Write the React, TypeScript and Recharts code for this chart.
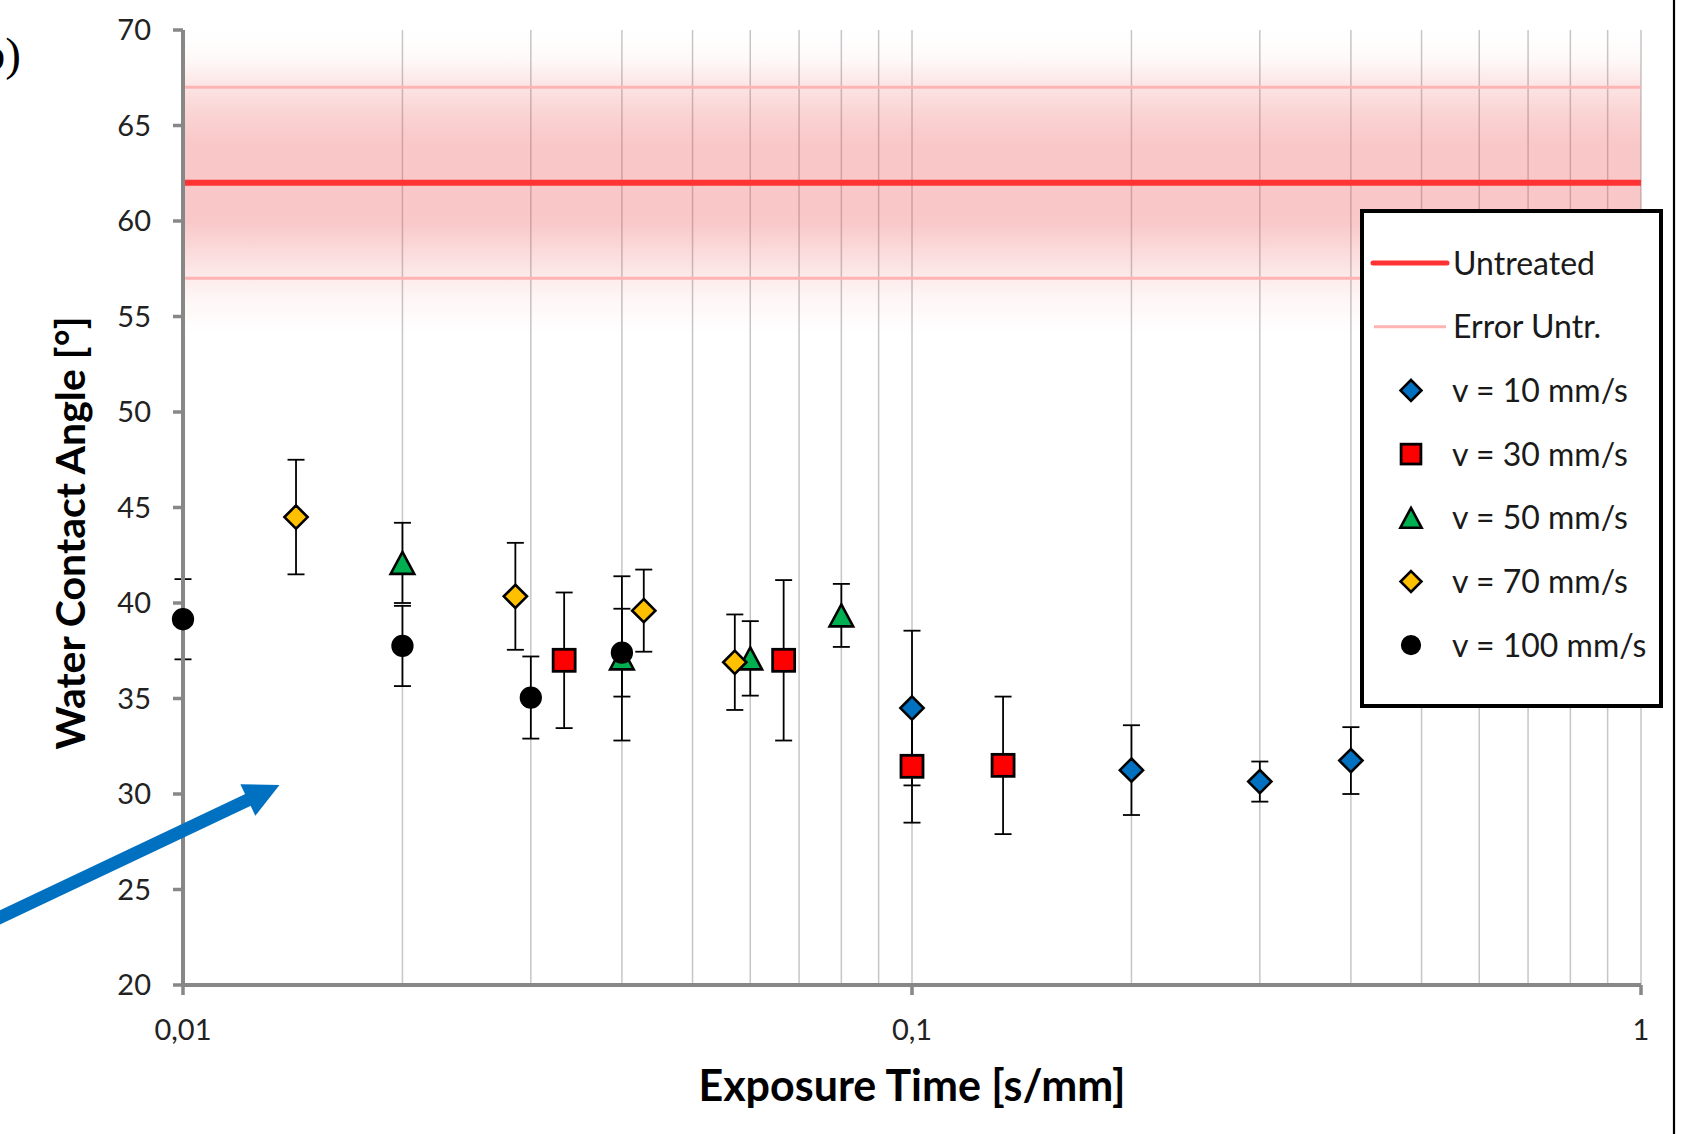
import React from 'react';
import {
  ScatterChart,
  Scatter,
  XAxis,
  YAxis,
  CartesianGrid,
  ReferenceLine,
  ReferenceArea,
  ErrorBar,
  Legend,
} from 'recharts';

// ---------- data ----------
// exposure time [s/mm]
const v10X = [0.1, 0.2, 0.3, 0.4];
const v10Y = [34.5, 31.25, 30.65, 31.75];
const v10Err = [4.05, 2.35, 1.05, 1.75];

const v30X = [0.03333, 0.06667, 0.1, 0.13333];
const v30Y = [37.0, 37.0, 31.45, 31.5];
const v30Err = [3.55, 4.2, 2.95, 3.6];

const v50X = [0.02, 0.04, 0.06, 0.08];
const v50Y = [42.1, 37.1, 37.1, 39.35];
const v50Err = [2.1, 4.3, 1.95, 1.65];

const v70X = [0.01429, 0.02857, 0.04286, 0.05714];
const v70Y = [44.5, 40.35, 39.6, 36.9];
const v70Err = [3.0, 2.8, 2.15, 2.5];

const v100X = [0.01, 0.02, 0.03, 0.04];
const v100Y = [39.15, 37.75, 35.05, 37.4];
const v100Err = [2.1, 2.1, 2.15, 2.3];

const untreatedMean = 62;
const untreatedErr = 5;

const seriesNames = ['v = 10 mm/s', 'v = 30 mm/s', 'v = 50 mm/s', 'v = 70 mm/s', 'v = 100 mm/s'];
const lineNames = ['Untreated', 'Error Untr.'];

const xTicks = [0.01, 0.1, 1];
const xTickLabels = ['0,01', '0,1', '1'];
const yTicks = [20, 25, 30, 35, 40, 45, 50, 55, 60, 65, 70];
const gridX = [
  0.02, 0.03, 0.04, 0.05, 0.06, 0.07, 0.08, 0.09, 0.1,
  0.2, 0.3, 0.4, 0.5, 0.6, 0.7, 0.8, 0.9, 1,
];

const xTitle = 'Exposure Time [s/mm]';
const yTitle = 'Water Contact Angle [°]';

// ---------- helpers ----------
type Pt = { x: number; y: number; err: number };
const toPoints = (xs: number[], ys: number[], es: number[]): Pt[] =>
  xs.map((x, i) => ({ x, y: ys[i], err: es[i] }));

type Kind = 'diamond' | 'square' | 'triangle' | 'circle';

const series: { name: string; data: Pt[]; kind: Kind; fill: string }[] = [
  { name: seriesNames[0], data: toPoints(v10X, v10Y, v10Err), kind: 'diamond', fill: '#0070C0' },
  { name: seriesNames[1], data: toPoints(v30X, v30Y, v30Err), kind: 'square', fill: '#FF0000' },
  { name: seriesNames[2], data: toPoints(v50X, v50Y, v50Err), kind: 'triangle', fill: '#00B050' },
  { name: seriesNames[3], data: toPoints(v70X, v70Y, v70Err), kind: 'diamond', fill: '#FFC000' },
  { name: seriesNames[4], data: toPoints(v100X, v100Y, v100Err), kind: 'circle', fill: '#000000' },
];

const FONT = 'Lato, "Open Sans", sans-serif';
const RED = '#FF3333';
const PINK = '#FFB3B3';

function Marker({ kind, fill, cx, cy, k = 1 }: { kind: Kind; fill: string; cx: number; cy: number; k?: number }) {
  if (cx == null || cy == null) return null;
  if (kind === 'diamond') {
    const s = 11.6 * k;
    return (
      <polygon
        points={`${cx},${cy - s} ${cx + s},${cy} ${cx},${cy + s} ${cx - s},${cy}`}
        fill={fill}
        stroke="#000"
        strokeWidth={2.6}
      />
    );
  }
  if (kind === 'square') {
    const s = 11 * k;
    return <rect x={cx - s} y={cy - s} width={2 * s} height={2 * s} fill={fill} stroke="#000" strokeWidth={2.8} />;
  }
  if (kind === 'triangle') {
    const h = 11 * k;
    const w = 11.8 * k;
    return (
      <polygon
        points={`${cx},${cy - h} ${cx + w},${cy + h} ${cx - w},${cy + h}`}
        fill={fill}
        stroke="#000"
        strokeWidth={2.6}
        strokeLinejoin="miter"
      />
    );
  }
  return <circle cx={cx} cy={cy} r={10.4 * k} fill={fill} stroke="#000" strokeWidth={1.5} />;
}

const YTitle = (props: any) => {
  const vb = props && props.viewBox && props.viewBox.height ? props.viewBox : { x: 63, y: 30, width: 120, height: 955 };
  const x = vb.x + vb.width - 98;
  const y = vb.y + vb.height / 2 + 25.5;
  return (
    <text
      x={x}
      y={y}
      transform={`rotate(-90, ${x}, ${y})`}
      textAnchor="middle"
      fontFamily={FONT}
      fontWeight={700}
      fontSize={41}
      fill="#000"
    >
      {yTitle}
    </text>
  );
};

const XTitle = (props: any) => {
  const vb = props && props.viewBox && props.viewBox.width ? props.viewBox : { x: 183, y: 985, width: 1458, height: 100 };
  return (
    <text
      x={vb.x + vb.width / 2}
      y={vb.y + 116}
      textAnchor="middle"
      fontFamily={FONT}
      fontWeight={700}
      fontSize={43}
      fill="#000"
    >
      {xTitle}
    </text>
  );
};

const LegendBox = () => {
  const rowY = (i: number) => 54 + i * 63.7;
  const textStyle = { fontFamily: FONT, fontSize: 32, fill: '#1a1a1a' } as const;
  return (
    <div
      style={{
        width: 303,
        height: 499,
        boxSizing: 'border-box',
        border: '4px solid #000',
        background: '#fff',
        position: 'relative',
      }}
    >
      <svg width={303} height={499} style={{ position: 'absolute', left: -4, top: -4 }}>
        <line x1={13} x2={87} y1={rowY(0)} y2={rowY(0)} stroke={RED} strokeWidth={5} strokeLinecap="round" />
        <text x={93} y={rowY(0) + 11.5} {...textStyle}>{lineNames[0]}</text>
        <line x1={14} x2={86} y1={rowY(1)} y2={rowY(1)} stroke={PINK} strokeWidth={3} />
        <text x={93} y={rowY(1) + 11.5} {...textStyle}>{lineNames[1]}</text>
        {series.map((s, i) => (
          <g key={s.name}>
            <Marker kind={s.kind} fill={s.fill} cx={51} cy={rowY(i + 2)} k={0.9} />
            <text x={92} y={rowY(i + 2) + 11.5} {...textStyle}>{s.name}</text>
          </g>
        ))}
      </svg>
    </div>
  );
};

// arrow annotation (decoration)
const Annotations = () => {
  const tip = { x: 279.5, y: 785 };
  const ux = 0.904;
  const uy = -0.428;
  const headLen = 35;
  const headHalf = 17.5;
  const bx = tip.x - headLen * ux;
  const by = tip.y - headLen * uy;
  const px = -uy;
  const py = ux;
  const startX = -40;
  const t = (bx - startX) / ux;
  const startY = by - uy * t;
  return (
    <svg width={1705} height={1134} style={{ position: 'absolute', left: 0, top: 0, pointerEvents: 'none' }}>
      <text x={21} y={70} textAnchor="end" fontFamily='"Liberation Serif", "Times New Roman", serif' fontSize={47} fill="#000">
        b)
      </text>
      <line x1={startX} y1={startY} x2={bx + 2 * ux} y2={by + 2 * uy} stroke="#0070C0" strokeWidth={13} />
      <polygon
        points={`${tip.x},${tip.y} ${bx + headHalf * px},${by + headHalf * py} ${bx - headHalf * px},${by - headHalf * py}`}
        fill="#0070C0"
      />
      <line x1={1674} x2={1674} y1={0} y2={1134} stroke="#000" strokeWidth={2.2} />
    </svg>
  );
};

export default function App() {
  return (
    <div
      style={{
        position: 'absolute',
        left: 0,
        top: 0,
        width: 1705,
        height: 1134,
        background: '#fff',
        overflow: 'hidden',
      }}
    >
      <ScatterChart width={1705} height={1134} margin={{ top: 30, right: 64, bottom: 49, left: 63 }}>
        <defs>
          <linearGradient id="untreatedBand" x1="0" y1="0" x2="0" y2="1">
            <stop offset="0" stopColor="rgb(235,70,70)" stopOpacity={0} />
            <stop offset="0.094" stopColor="rgb(235,70,70)" stopOpacity={0.03} />
            <stop offset="0.1875" stopColor="rgb(235,70,70)" stopOpacity={0.15} />
            <stop offset="0.281" stopColor="rgb(235,70,70)" stopOpacity={0.24} />
            <stop offset="0.375" stopColor="rgb(235,70,70)" stopOpacity={0.3} />
            <stop offset="0.625" stopColor="rgb(235,70,70)" stopOpacity={0.3} />
            <stop offset="0.719" stopColor="rgb(235,70,70)" stopOpacity={0.2} />
            <stop offset="0.8125" stopColor="rgb(235,70,70)" stopOpacity={0.11} />
            <stop offset="0.875" stopColor="rgb(235,70,70)" stopOpacity={0.05} />
            <stop offset="0.969" stopColor="rgb(235,70,70)" stopOpacity={0.01} />
            <stop offset="1" stopColor="rgb(235,70,70)" stopOpacity={0} />
          </linearGradient>
        </defs>
        <CartesianGrid horizontal={false} verticalValues={gridX} stroke="#c6c6c6" strokeWidth={1.5} />
        <XAxis
          type="number"
          dataKey="x"
          scale="log"
          domain={[0.01, 1]}
          ticks={xTicks}
          interval={0}
          tickFormatter={(v: number) => xTickLabels[xTicks.indexOf(v)] ?? String(v)}
          height={100}
          tickSize={10}
          tickMargin={24}
          axisLine={{ stroke: '#878787', strokeWidth: 4 }}
          tickLine={{ stroke: '#878787', strokeWidth: 3.5 }}
          tick={{ fill: '#222', fontSize: 29, fontFamily: FONT }}
          label={XTitle}
        />
        <YAxis
          type="number"
          dataKey="y"
          domain={[20, 70]}
          ticks={yTicks}
          interval={0}
          width={120}
          tickSize={10}
          tickMargin={22}
          axisLine={{ stroke: '#878787', strokeWidth: 4 }}
          tickLine={{ stroke: '#878787', strokeWidth: 3.5 }}
          tick={{ fill: '#222', fontSize: 29, fontFamily: FONT }}
          label={YTitle}
        />
        <ReferenceArea y1={54} y2={70} fill="url(#untreatedBand)" fillOpacity={1} stroke="none" />
        <ReferenceLine y={untreatedMean + untreatedErr} stroke={PINK} strokeWidth={3} />
        <ReferenceLine y={untreatedMean - untreatedErr} stroke={PINK} strokeWidth={3} />
        <ReferenceLine y={untreatedMean} stroke={RED} strokeWidth={6} />
        {series.map((s) => (
          <Scatter
            key={s.name}
            name={s.name}
            data={s.data}
            isAnimationActive={false}
            shape={(p: any) => <Marker kind={s.kind} fill={s.fill} cx={p.cx} cy={p.cy} />}
          >
            <ErrorBar dataKey="err" direction="y" width={8.5} stroke="#000" strokeWidth={1.8} />
          </Scatter>
        ))}
        <Legend
          layout="vertical"
          align="center"
          verticalAlign="middle"
          content={() => <LegendBox />}
          wrapperStyle={{ left: 1360, top: 209, width: 303, height: 499 }}
        />
      </ScatterChart>
      <Annotations />
    </div>
  );
}
